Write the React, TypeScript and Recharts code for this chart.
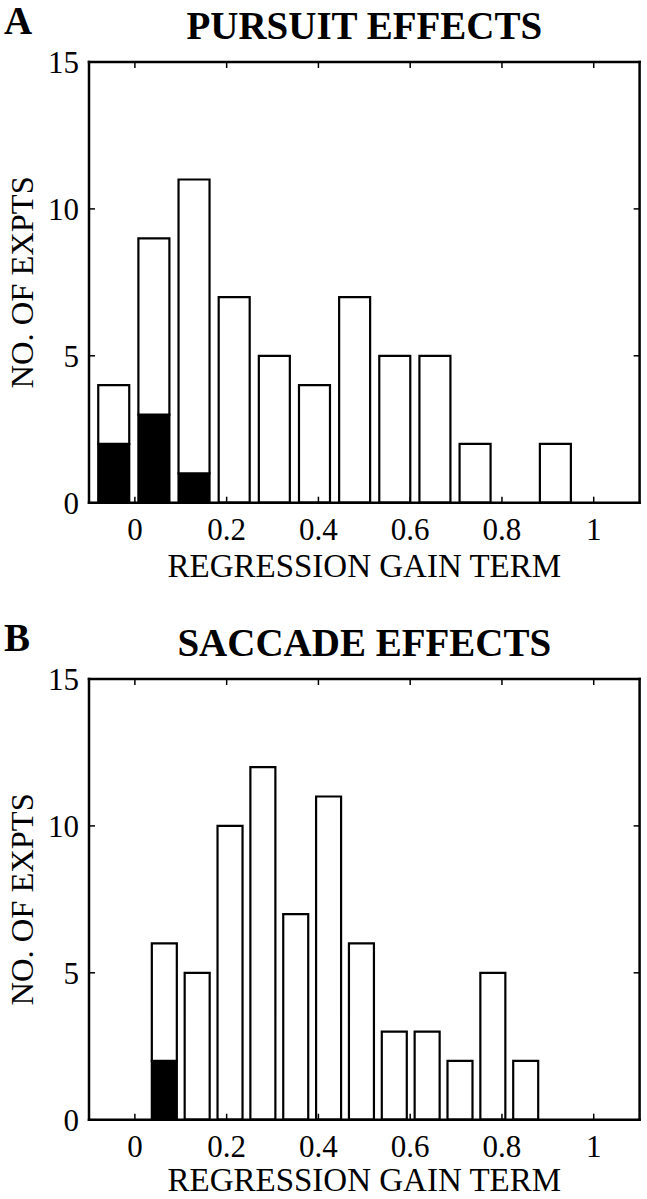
import React from "react";
import { BarChart, Bar, XAxis, YAxis, Label } from "recharts";

// bin centres (regression gain term)
const pursuitBins = [-0.047, 0.0405, 0.128, 0.2155, 0.303, 0.3905, 0.478, 0.5655, 0.653, 0.7405, 0.828, 0.9155];
const pursuitTotal = [4, 9, 11, 7, 5, 4, 7, 5, 5, 2, 0, 2];
const pursuitFilled = [2, 3, 1, 0, 0, 0, 0, 0, 0, 0, 0, 0];

const saccadeBins = [0.064, 0.1356, 0.2072, 0.2788, 0.3504, 0.422, 0.4936, 0.5652, 0.6368, 0.7084, 0.78, 0.8516];
const saccadeTotal = [6, 5, 10, 12, 7, 11, 6, 3, 3, 2, 5, 2];
const saccadeFilled = [2, 0, 0, 0, 0, 0, 0, 0, 0, 0, 0, 0];

const xTicks = [0, 0.2, 0.4, 0.6, 0.8, 1];
const yTicks = [0, 5, 10, 15];

const FONT = '"Liberation Serif", "Times New Roman", Times, serif';
const TICK_LEN = 6;
const TICK_FONT = 31;

function BottomTick({ x, y, payload }: any) {
  return (
    <g>
      <line x1={x} y1={y} x2={x} y2={y - TICK_LEN} stroke="#000" strokeWidth={1.5} />
      <text x={x} y={y + 37.5} textAnchor="middle" fontFamily={FONT} fontSize={TICK_FONT} fill="#000">
        {String(payload.value)}
      </text>
    </g>
  );
}

function TopTick({ x, y }: any) {
  return <line x1={x} y1={y} x2={x} y2={y + TICK_LEN} stroke="#000" strokeWidth={1.5} />;
}

function LeftTick({ x, y, payload }: any) {
  return (
    <g>
      <line x1={x} y1={y} x2={x + TICK_LEN} y2={y} stroke="#000" strokeWidth={1.5} />
      <text x={x - 10} y={y + 11} textAnchor="end" fontFamily={FONT} fontSize={TICK_FONT} fill="#000">
        {String(payload.value)}
      </text>
    </g>
  );
}

function RightTick({ x, y }: any) {
  return <line x1={x} y1={y} x2={x - TICK_LEN} y2={y} stroke="#000" strokeWidth={1.5} />;
}

const axisLine = { stroke: "#000", strokeWidth: 2.5, strokeLinecap: "square" as const };

interface PanelProps {
  letter: string;
  title: string;
  bins: number[];
  total: number[];
  filled: number[];
  barSize: number;
  height: number;
  labelOffset: number;
}

function Panel({ letter, title, bins, total, filled, barSize, height, labelOffset }: PanelProps) {
  const data = bins.map((b, i) => ({
    bin: b,
    filled: filled[i],
    open: total[i] - filled[i],
  }));

  return (
    <BarChart
      width={647}
      height={height}
      data={data}
      margin={{ top: 60, right: 5.4, bottom: height - 502.7 - 40, left: 29 }}
    >
      <XAxis
        dataKey="bin"
        type="number"
        domain={[-0.1, 1.1]}
        ticks={xTicks}
        interval={0}
        height={40}
        tickSize={0}
        tickMargin={0}
        tickLine={false}
        axisLine={axisLine}
        tick={<BottomTick />}
        allowDataOverflow
      >
        <Label
          content={({ viewBox }: any) => (
            <text
              x={viewBox.x + viewBox.width / 2}
              y={viewBox.y + labelOffset}
              textAnchor="middle"
              fontFamily={FONT}
              fontSize={33}
              fill="#000"
            >
              REGRESSION GAIN TERM
            </text>
          )}
        />
      </XAxis>
      <XAxis
        xAxisId="top"
        dataKey="bin"
        orientation="top"
        type="number"
        domain={[-0.1, 1.1]}
        ticks={xTicks}
        interval={0}
        height={2}
        tickSize={0}
        tickMargin={0}
        tickLine={false}
        axisLine={axisLine}
        tick={<TopTick />}
        allowDataOverflow
      >
        <Label
          content={({ viewBox }: any) => (
            <g>
              <text x={4} y={viewBox.y - 26} fontFamily={FONT} fontWeight="bold" fontSize={39} fill="#000">
                {letter}
              </text>
              <text
                x={viewBox.x + viewBox.width / 2}
                y={viewBox.y - 21}
                textAnchor="middle"
                fontFamily={FONT}
                fontWeight="bold"
                fontSize={39}
                fill="#000"
              >
                {title}
              </text>
            </g>
          )}
        />
      </XAxis>
      <YAxis
        type="number"
        domain={[0, 15]}
        ticks={yTicks}
        interval={0}
        width={60}
        tickSize={0}
        tickMargin={0}
        tickLine={false}
        axisLine={axisLine}
        tick={<LeftTick />}
        allowDataOverflow
      >
        <Label
          content={({ viewBox }: any) => {
            const cy = viewBox.y + viewBox.height / 2;
            return (
              <text
                x={33}
                y={cy}
                transform={`rotate(-90, 33, ${cy})`}
                textAnchor="middle"
                fontFamily={FONT}
                fontSize={32.5}
                fill="#000"
              >
                NO. OF EXPTS
              </text>
            );
          }}
        />
      </YAxis>
      <YAxis
        yAxisId="right"
        orientation="right"
        type="number"
        domain={[0, 15]}
        ticks={yTicks}
        interval={0}
        width={2}
        tickSize={0}
        tickMargin={0}
        tickLine={false}
        axisLine={axisLine}
        tick={<RightTick />}
        allowDataOverflow
      />
      <Bar
        dataKey="filled"
        stackId="a"
        fill="#000"
        stroke="#000"
        strokeWidth={2.2}
        barSize={barSize}
        isAnimationActive={false}
      />
      <Bar
        dataKey="open"
        stackId="a"
        fill="#fff"
        stroke="#000"
        strokeWidth={2.2}
        barSize={barSize}
        isAnimationActive={false}
      />
    </BarChart>
  );
}

export default function App() {
  return (
    <div
      style={{
        position: "absolute",
        left: 0,
        top: 0,
        width: 647,
        height: 1199,
        overflow: "hidden",
        background: "#fff",
      }}
    >
      <div style={{ position: "absolute", left: 0, top: 0 }}>
        <Panel
          letter="A"
          title="PURSUIT EFFECTS"
          bins={pursuitBins}
          total={pursuitTotal}
          filled={pursuitFilled}
          barSize={31}
          height={617}
          labelOffset={74.3}
        />
      </div>
      <div style={{ position: "absolute", left: 0, top: 617 }}>
        <Panel
          letter="B"
          title="SACCADE EFFECTS"
          bins={saccadeBins}
          total={saccadeTotal}
          filled={saccadeFilled}
          barSize={25}
          height={582}
          labelOffset={71.5}
        />
      </div>
    </div>
  );
}
